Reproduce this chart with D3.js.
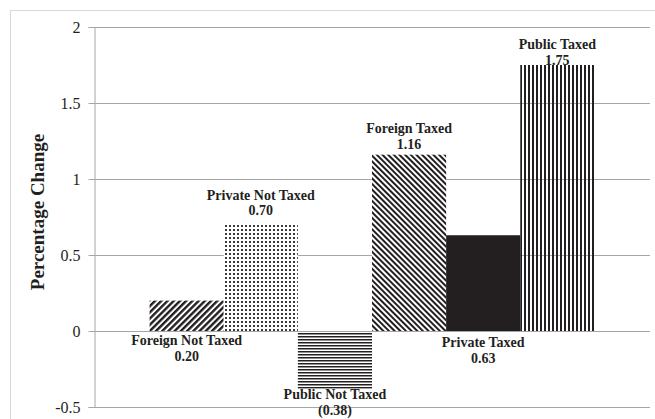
<!DOCTYPE html>
<html>
<head>
<meta charset="utf-8">
<script src="https://cdn.jsdelivr.net/npm/d3@7"></script>
<style>
  body { margin: 0; background: #fff; }
  svg { display: block; font-family: "Liberation Serif", "Times New Roman", serif; }
</style>
</head>
<body>
<svg id="svg"></svg>
<script>
// data
var category = ["All"];
var series = ["Foreign Not Taxed", "Private Not Taxed", "Public Not Taxed",
              "Foreign Taxed", "Private Taxed", "Public Taxed"];
var values = [0.20, 0.70, -0.38, 1.16, 0.63, 1.75];
var valueText = ["0.20", "0.70", "(0.38)", "1.16", "0.63", "1.75"];
var yTicks = [-0.5, 0, 0.5, 1, 1.5, 2];

var W = 655, H = 419;
var margin = {top: 27, right: 5, bottom: 12, left: 94};

var svg = d3.select("#svg").attr("width", W).attr("height", H);

// chart area border
svg.append("rect")
  .attr("x", 10.5).attr("y", 10.5)
  .attr("width", 660).attr("height", 430)
  .style("fill", "none").style("stroke", "#d9d9d9");

var y = d3.scaleLinear().domain([-0.5, 2]).range([H - margin.bottom, margin.top]);
var x0 = d3.scaleBand().domain(category)
  .range([margin.left, W - margin.right])
  .paddingInner(0).paddingOuter(0.125);
var x1 = d3.scaleBand().domain(series).range([0, x0.bandwidth()]);

var ink = "#231f20";
var defs = svg.append("defs");

function stripes(id, size, thick, angle, bg) {
  var p = defs.append("pattern").attr("id", id)
    .attr("patternUnits", "userSpaceOnUse")
    .attr("width", size).attr("height", size)
    .attr("patternTransform", "rotate(" + angle + ")");
  if (bg) p.append("rect").attr("width", size).attr("height", size).style("fill", bg);
  p.append("rect").attr("width", thick).attr("height", size).style("fill", ink);
}
stripes("p0", 4.4, 2.4, 45, "#fff");
stripes("p2", 3, 1.5, 90, "#fff");
stripes("p3", 4, 2, -45, "#fff");
stripes("p5", 4, 2, 0, null);

var dots = defs.append("pattern").attr("id", "p1")
  .attr("patternUnits", "userSpaceOnUse").attr("width", 4).attr("height", 4);
dots.append("rect").attr("width", 4).attr("height", 4).style("fill", "#fff");
dots.append("rect").attr("x", 1).attr("y", 1).attr("width", 2).attr("height", 2).style("fill", "#3a3a3a");

var fills = ["url(#p0)", "url(#p1)", "url(#p2)", "url(#p3)", ink, "url(#p5)"];

// gridlines
svg.append("g").selectAll("line")
  .data(yTicks)
  .enter().append("line")
  .attr("x1", margin.left).attr("x2", W - margin.right)
  .attr("y1", d => Math.round(y(d)) + 0.5).attr("y2", d => Math.round(y(d)) + 0.5)
  .style("stroke", "#a6a6a6").style("stroke-width", 1);

// bars
svg.append("g").selectAll("rect")
  .data(values)
  .enter().append("rect")
  .attr("x", (d, i) => x0(category[0]) + x1(series[i]))
  .attr("width", x1.bandwidth())
  .attr("y", d => y(Math.max(0, d)))
  .attr("height", d => Math.abs(y(d) - y(0)))
  .style("fill", (d, i) => fills[i]);

// zero line on top
svg.append("line")
  .attr("x1", margin.left).attr("x2", W - margin.right)
  .attr("y1", Math.round(y(0)) + 0.5).attr("y2", Math.round(y(0)) + 0.5)
  .style("stroke", "#a6a6a6");

// y axis
var yAxis = d3.axisLeft(y).tickValues(yTicks).tickSize(6).tickPadding(8)
  .tickFormat(d => String(d));
var gy = svg.append("g")
  .attr("transform", `translate(${margin.left + 0.5},0)`)
  .call(yAxis);
gy.select(".domain").style("stroke", "#a6a6a6");
gy.selectAll(".tick line").style("stroke", "#a6a6a6");
gy.selectAll(".tick text")
  .style("font-family", "'Liberation Serif', 'Times New Roman', serif")
  .style("font-size", "16px").style("fill", "#231f20");

svg.append("text")
  .attr("transform", `translate(44,212) rotate(-90)`)
  .attr("text-anchor", "middle")
  .style("font-size", "19px").style("font-weight", 700).style("fill", "#231f20")
  .text("Percentage Change");

// data labels (placed by hand as in the original)
var labelAt = [
  {from: 0, dy: 9},    // under zero line
  {from: 1, dy: -30},  // above bar top
  {from: 1, dy: 5},    // under bar bottom
  {from: 1, dy: -27},
  {from: 0, dy: 11},
  {from: 1, dy: -21}
];
var lab = svg.append("g").selectAll("g")
  .data(values)
  .enter().append("g")
  .attr("transform", (d, i) => {
    var cx = x0(category[0]) + x1(series[i]) + x1.bandwidth() / 2;
    var base = labelAt[i].from === 0 ? y(0) : y(d);
    return `translate(${cx},${base + labelAt[i].dy})`;
  });
lab.append("text")
  .attr("text-anchor", "middle").attr("dy", "0.35em")
  .style("font-size", "14px").style("font-weight", 700).style("fill", "#231f20")
  .text((d, i) => series[i]);
lab.append("text")
  .attr("text-anchor", "middle").attr("dy", "0.35em").attr("y", 16)
  .style("font-size", "14px").style("font-weight", 700).style("fill", "#231f20")
  .text((d, i) => valueText[i]);
</script>
</body>
</html>
